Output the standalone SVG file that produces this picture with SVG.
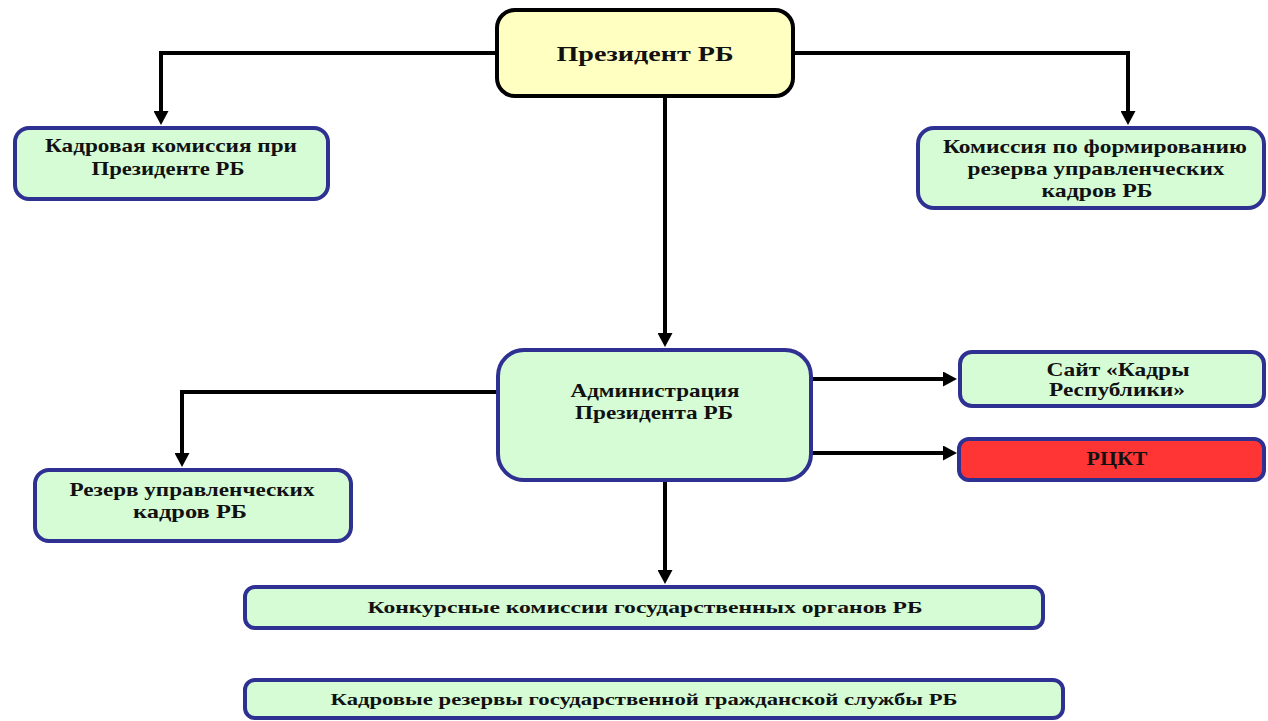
<svg xmlns="http://www.w3.org/2000/svg" width="1268" height="721" viewBox="0 0 1268 721">
<style>
.box{fill:#d6fcd6;stroke:#2e3192;stroke-width:4}
.pres{fill:#ffffc2;stroke:#000;stroke-width:4}
.red{fill:#ff3535;stroke:#2e3192;stroke-width:4}
.conn{fill:none;stroke:#000;stroke-width:4}
text{font-family:"Liberation Serif","Times New Roman",serif;font-weight:bold;fill:#111;text-anchor:middle}
.t{font-size:19px}
.tp{font-size:20px}
.tb{font-size:17px}
</style>
<defs>
<marker id="ah" markerUnits="userSpaceOnUse" markerWidth="15" markerHeight="15" refX="0" refY="7.5" orient="auto" viewBox="0 0 14 15">
<path d="M0,0 L14,7.5 L0,15 z" fill="#000"/>
</marker>
</defs>
<g id="connectors">
<path class="conn" d="M497,53 H161 V111" marker-end="url(#ah)"/>
<path class="conn" d="M793,53 H1128 V111" marker-end="url(#ah)"/>
<path class="conn" d="M665,96 V333" marker-end="url(#ah)"/>
<path class="conn" d="M498,392 H182 V453" marker-end="url(#ah)"/>
<path class="conn" d="M811,379 H943" marker-end="url(#ah)"/>
<path class="conn" d="M811,453 H943" marker-end="url(#ah)"/>
<path class="conn" d="M665,480 V570" marker-end="url(#ah)"/>
</g>
<g id="president">
<rect class="pres" x="497" y="10" width="296" height="86" rx="18"/>
<text class="tp" x="645" y="61" textLength="177" lengthAdjust="spacingAndGlyphs">Президент РБ</text>
</g>
<g id="kadrovaya-komissiya">
<rect class="box" x="15" y="128" width="313" height="71" rx="14"/>
<text class="t" x="171" y="152" textLength="252" lengthAdjust="spacingAndGlyphs">Кадровая комиссия при</text>
<text class="t" x="168" y="175" textLength="153" lengthAdjust="spacingAndGlyphs">Президенте РБ</text>
</g>
<g id="komissiya-rezerva">
<rect class="box" x="918" y="128" width="346" height="80" rx="16"/>
<text class="t" x="1095" y="153" textLength="304" lengthAdjust="spacingAndGlyphs">Комиссия по формированию</text>
<text class="t" x="1096" y="175" textLength="257" lengthAdjust="spacingAndGlyphs">резерва управленческих</text>
<text class="t" x="1097" y="197" textLength="111" lengthAdjust="spacingAndGlyphs">кадров РБ</text>
</g>
<g id="administraciya">
<rect class="box" x="498" y="350" width="313" height="130" rx="26"/>
<text class="t" x="655" y="397" textLength="169" lengthAdjust="spacingAndGlyphs">Администрация</text>
<text class="t" x="654" y="419" textLength="158" lengthAdjust="spacingAndGlyphs">Президента РБ</text>
</g>
<g id="sait">
<rect class="box" x="960" y="352" width="304" height="54" rx="12"/>
<text class="t" x="1118" y="376" textLength="143" lengthAdjust="spacingAndGlyphs">Сайт «Кадры</text>
<text class="t" x="1117" y="396" textLength="136" lengthAdjust="spacingAndGlyphs">Республики»</text>
</g>
<g id="rckt">
<rect class="red" x="959" y="439" width="305" height="41" rx="10"/>
<text class="t" x="1117" y="465" textLength="61" lengthAdjust="spacingAndGlyphs">РЦКТ</text>
</g>
<g id="rezerv">
<rect class="box" x="35" y="470" width="316" height="71" rx="14"/>
<text class="t" x="192" y="496" textLength="245" lengthAdjust="spacingAndGlyphs">Резерв управленческих</text>
<text class="t" x="190" y="518" textLength="114" lengthAdjust="spacingAndGlyphs">кадров РБ</text>
</g>
<g id="konkursnye">
<rect class="box" x="245" y="587" width="798" height="41" rx="10"/>
<text class="tb" x="645" y="613" textLength="555" lengthAdjust="spacingAndGlyphs">Конкурсные комиссии государственных органов РБ</text>
</g>
<g id="kadrovye-rezervy">
<rect class="box" x="245" y="680" width="818" height="38" rx="10"/>
<text class="tb" x="644" y="705" textLength="627" lengthAdjust="spacingAndGlyphs">Кадровые резервы государственной гражданской службы РБ</text>
</g>
</svg>
